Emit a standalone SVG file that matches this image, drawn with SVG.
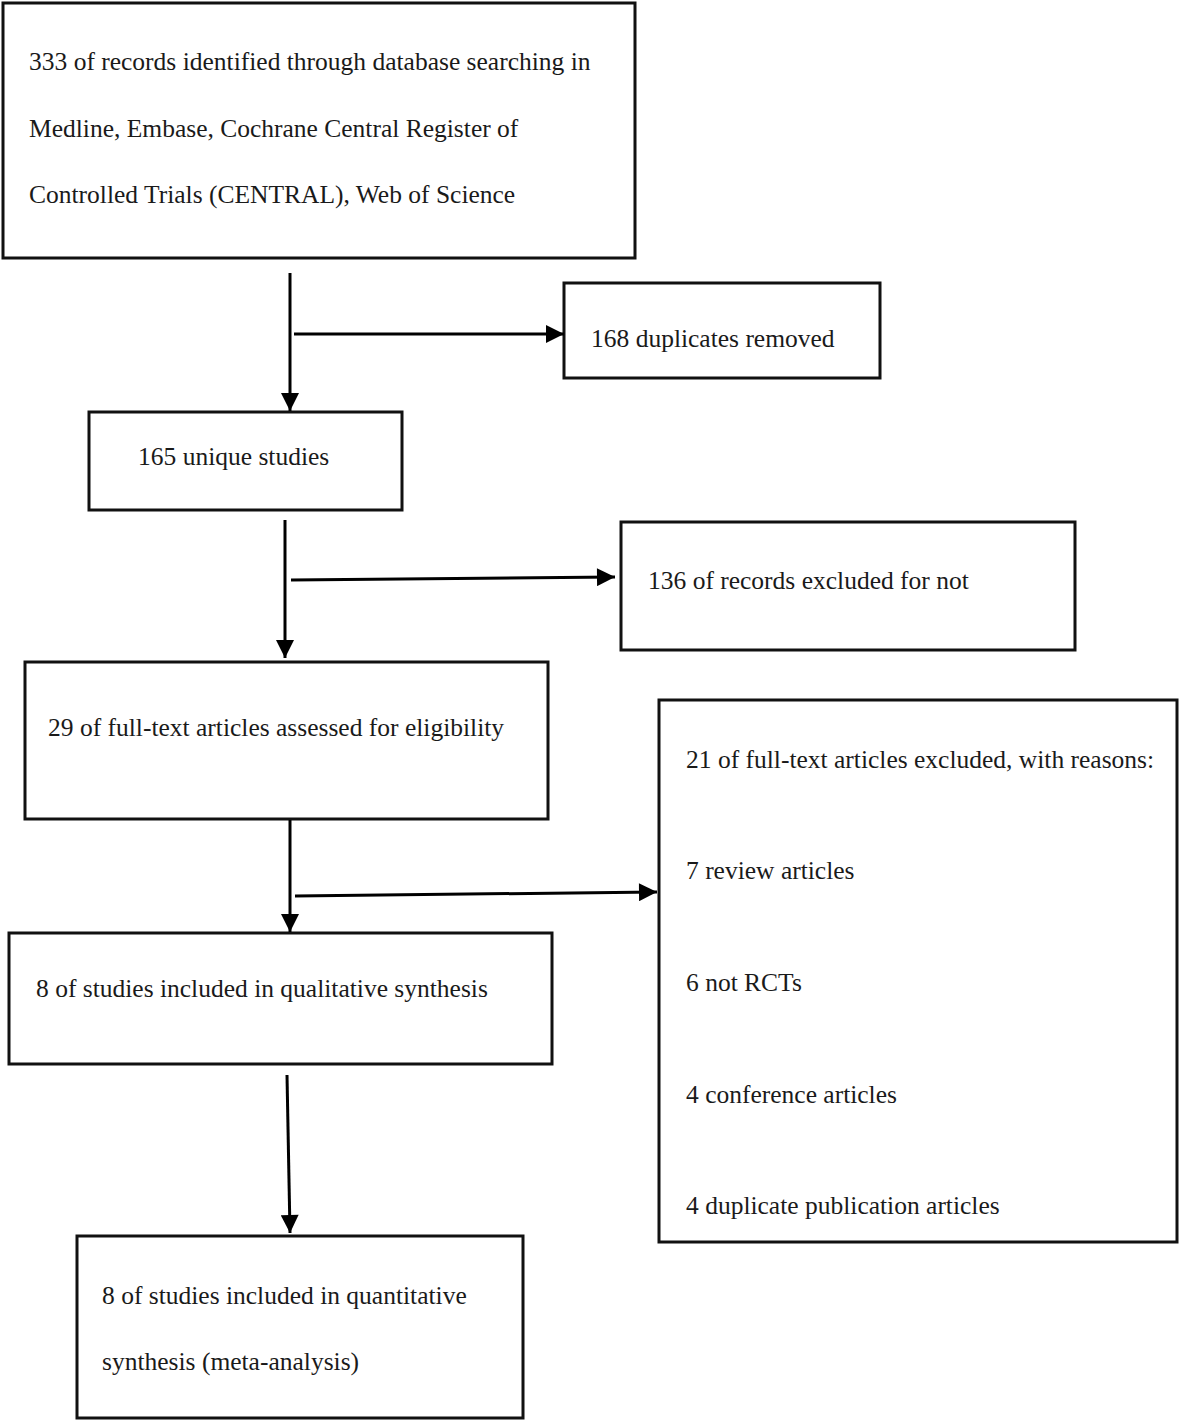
<svg xmlns="http://www.w3.org/2000/svg" width="1181" height="1423" viewBox="0 0 1181 1423">
<style>
.box{fill:#fff;stroke:#111;stroke-width:3}
.t{font-family:"Liberation Serif","Times New Roman",serif;font-size:25.5px;fill:#1a1a1a}
.c{stroke:#000;stroke-width:3;fill:none}
</style>
<defs>
<marker id="ah2" viewBox="0 0 10 10" refX="10" refY="5" markerWidth="20" markerHeight="18" orient="auto" markerUnits="userSpaceOnUse">
<path d="M0,0 L10,5 L0,10 z" fill="#000"/>
</marker>
</defs>
<rect width="1181" height="1423" fill="#fff"/>
<g id="n1"><rect class="box" x="3" y="3" width="632" height="255"/>
<text class="t" x="29" y="70">333 of records identified through database searching in</text>
<text class="t" x="29" y="137">Medline, Embase, Cochrane Central Register of</text>
<text class="t" x="29" y="203">Controlled Trials (CENTRAL), Web of Science</text></g>
<g id="n2"><rect class="box" x="564" y="283" width="316" height="95"/>
<text class="t" x="591" y="347">168 duplicates removed</text></g>
<g id="n3"><rect class="box" x="89" y="412" width="313" height="98"/>
<text class="t" x="138" y="465">165 unique studies</text></g>
<g id="n4"><rect class="box" x="621" y="522" width="454" height="128"/>
<text class="t" x="648" y="589">136 of records excluded for not</text></g>
<g id="n5"><rect class="box" x="25" y="662" width="523" height="157"/>
<text class="t" x="48" y="736">29 of full-text articles assessed for eligibility</text></g>
<g id="n6"><rect class="box" x="9" y="933" width="543" height="131"/>
<text class="t" x="36" y="997">8 of studies included in qualitative synthesis</text></g>
<g id="n7"><rect class="box" x="659" y="700" width="518" height="542"/>
<text class="t" x="686" y="768">21 of full-text articles excluded, with reasons:</text>
<text class="t" x="686" y="879">7 review articles</text>
<text class="t" x="686" y="991">6 not RCTs</text>
<text class="t" x="686" y="1103">4 conference articles</text>
<text class="t" x="686" y="1214">4 duplicate publication articles</text></g>
<g id="n8"><rect class="box" x="77" y="1236" width="446" height="182"/>
<text class="t" x="102" y="1304">8 of studies included in quantitative</text>
<text class="t" x="102" y="1370">synthesis (meta-analysis)</text></g>
<g id="connectors">
<line class="c" x1="290" y1="273" x2="290" y2="411" marker-end="url(#ah2)"/>
<line class="c" x1="294" y1="334" x2="564" y2="334" marker-end="url(#ah2)"/>
<line class="c" x1="285" y1="520" x2="285" y2="658" marker-end="url(#ah2)"/>
<line class="c" x1="291" y1="580" x2="615" y2="577" marker-end="url(#ah2)"/>
<line class="c" x1="290" y1="820" x2="290" y2="932" marker-end="url(#ah2)"/>
<line class="c" x1="295" y1="896" x2="657" y2="892" marker-end="url(#ah2)"/>
<line class="c" x1="287" y1="1075" x2="290" y2="1233" marker-end="url(#ah2)"/>
</g>
</svg>
